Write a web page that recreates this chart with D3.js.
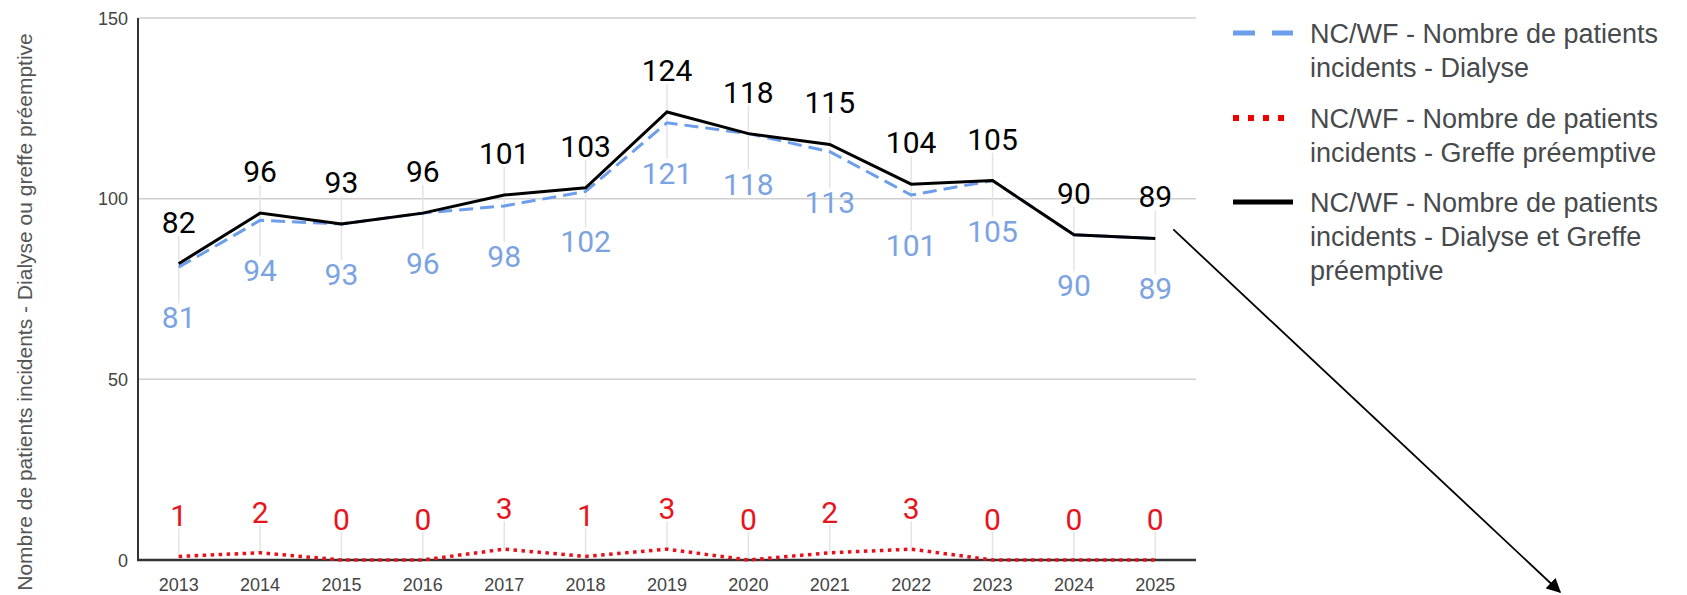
<!DOCTYPE html>
<html>
<head>
<meta charset="utf-8">
<script src="https://cdn.jsdelivr.net/npm/d3@7"></script>
<style>
  body { margin: 0; background: #fff; }
  svg { display: block; }
</style>
</head>
<body>
<script>
// Data
var years = ["2013", "2014", "2015", "2016", "2017", "2018", "2019", "2020", "2021", "2022", "2023", "2024", "2025"];
var dialyse = [81, 94, 93, 96, 98, 102, 121, 118, 113, 101, 105, 90, 89];
var greffe = [1, 2, 0, 0, 3, 1, 3, 0, 2, 3, 0, 0, 0];
var total = [82, 96, 93, 96, 101, 103, 124, 118, 115, 104, 105, 90, 89];
var yTicks = [0, 50, 100, 150];
var legendLabels = [
    ["NC/WF - Nombre de patients", "incidents - Dialyse"],
    ["NC/WF - Nombre de patients", "incidents - Greffe préemptive"],
    ["NC/WF - Nombre de patients", "incidents - Dialyse et Greffe", "préemptive"]
];
var yTitle = "Nombre de patients incidents - Dialyse ou greffe préemptive";

var W = 1687, H = 595;
var svg = d3.select("body").append("svg")
    .attr("width", W)
    .attr("height", H);

svg.append("rect").attr("width", W).attr("height", H).attr("fill", "#fff");

// plot area
var plotL = 138, plotR = 1196, plotT = 18, plotB = 560;

var x = d3.scalePoint()
    .domain(years)
    .range([plotL, plotR])
    .padding(0.5);

var y = d3.scaleLinear()
    .domain([0, 150])
    .range([plotB, plotT]);

var labelFont = "Roboto, 'Noto Sans', sans-serif";
var axisFont = "'Liberation Sans', Arial, sans-serif";

// gridlines
svg.append("g")
    .selectAll("line")
    .data(yTicks.filter(d => d > 0))
    .enter()
    .append("line")
    .attr("x1", plotL)
    .attr("x2", plotR)
    .attr("y1", d => y(d))
    .attr("y2", d => y(d))
    .attr("stroke", "#cfcfcf")
    .attr("stroke-width", 1.5);

// y tick labels
svg.append("g")
    .selectAll("text")
    .data(yTicks)
    .enter()
    .append("text")
    .attr("x", plotL - 10)
    .attr("y", d => y(d) + 6.5)
    .attr("text-anchor", "end")
    .attr("font-family", axisFont)
    .attr("font-size", 18)
    .attr("fill", "#444")
    .text(d => d);

// x tick labels
svg.append("g")
    .selectAll("text")
    .data(years)
    .enter()
    .append("text")
    .attr("x", d => x(d))
    .attr("y", 591)
    .attr("text-anchor", "middle")
    .attr("font-family", axisFont)
    .attr("font-size", 18)
    .attr("fill", "#444")
    .text(d => d);

// y axis title
svg.append("text")
    .attr("transform", "translate(32,312) rotate(-90)")
    .attr("text-anchor", "middle")
    .attr("font-family", axisFont)
    .attr("font-size", 21)
    .attr("fill", "#555")
    .text(yTitle);

// leader lines for data labels
var leaders = svg.append("g").attr("stroke", "#e4e4e4").attr("stroke-width", 1.5);
years.forEach(function(yr, i) {
    leaders.append("line")
        .attr("x1", x(yr)).attr("x2", x(yr))
        .attr("y1", y(total[i]) - 28).attr("y2", y(dialyse[i]) + 36);
    leaders.append("line")
        .attr("x1", x(yr)).attr("x2", x(yr))
        .attr("y1", y(greffe[i]) - 28).attr("y2", y(greffe[i]));
});

// axes lines
svg.append("line")
    .attr("x1", plotL).attr("x2", plotL)
    .attr("y1", plotT).attr("y2", plotB)
    .attr("stroke", "#333").attr("stroke-width", 2);
svg.append("line")
    .attr("x1", plotL - 1).attr("x2", plotR)
    .attr("y1", plotB).attr("y2", plotB)
    .attr("stroke", "#333").attr("stroke-width", 2.5);

var line = d3.line()
    .x((d, i) => x(years[i]))
    .y(d => y(d));

// Dialyse - dashed blue
svg.append("path")
    .datum(dialyse)
    .attr("d", line)
    .attr("fill", "none")
    .attr("stroke", "#6d9eeb")
    .attr("stroke-width", 3)
    .attr("stroke-dasharray", "14,7");

// Total - solid black
svg.append("path")
    .datum(total)
    .attr("d", line)
    .attr("fill", "none")
    .attr("stroke", "#000")
    .attr("stroke-width", 3);

// Greffe - dotted red
svg.append("path")
    .datum(greffe)
    .attr("d", line)
    .attr("fill", "none")
    .attr("stroke", "#e8101a")
    .attr("stroke-width", 3.5)
    .attr("stroke-dasharray", "3.5,4.5");

// data labels
function labels(values, color, offset) {
    svg.append("g")
        .selectAll("text")
        .data(values)
        .enter()
        .append("text")
        .attr("x", (d, i) => x(years[i]))
        .attr("y", d => y(d) + offset)
        .attr("text-anchor", "middle")
        .attr("font-family", labelFont)
        .attr("font-size", 30)
        .attr("fill", color)
        .text(d => d);
}
labels(total, "#000", -31);
labels(dialyse, "#7ba3e2", 61);
labels(greffe, "#e8141c", -30);

// legend
var legendX = 1233, legendTextX = 1310;
var legendRows = [43, 128, 212];
var legendStyles = [
    {color: "#6d9eeb", width: 5, dash: "22,17"},
    {color: "#ee0000", width: 6, dash: "6,9"},
    {color: "#000", width: 5, dash: null}
];
var legend = svg.append("g");
legendLabels.forEach(function(lines, i) {
    var st = legendStyles[i];
    legend.append("line")
        .attr("x1", legendX).attr("x2", legendX + 60)
        .attr("y1", legendRows[i] - 10).attr("y2", legendRows[i] - 10)
        .attr("stroke", st.color)
        .attr("stroke-width", st.width)
        .attr("stroke-dasharray", st.dash);
    lines.forEach(function(t, j) {
        legend.append("text")
            .attr("x", legendTextX)
            .attr("y", legendRows[i] + j * 34)
            .attr("font-family", axisFont)
            .attr("font-size", 27)
            .attr("fill", "#474a4d")
            .text(t);
    });
});

// annotation arrow
svg.append("defs").append("marker")
    .attr("id", "arrow")
    .attr("viewBox", "0 0 10 10")
    .attr("refX", 9).attr("refY", 5)
    .attr("markerWidth", 8).attr("markerHeight", 8)
    .attr("orient", "auto")
    .append("path")
    .attr("d", "M0,0 L10,5 L0,10 z")
    .attr("fill", "#000");

svg.append("line")
    .attr("x1", x("2025") + 18)
    .attr("y1", y(89) - 9)
    .attr("x2", 1560)
    .attr("y2", 592)
    .attr("stroke", "#000")
    .attr("stroke-width", 1.8)
    .attr("marker-end", "url(#arrow)");
</script>
</body>
</html>
